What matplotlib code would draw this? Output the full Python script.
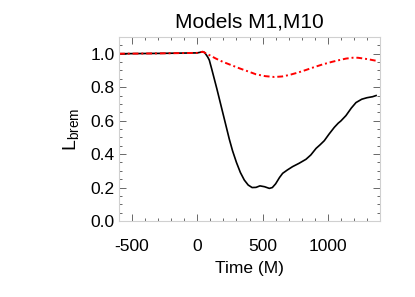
import numpy as np
import matplotlib
matplotlib.use("Agg")
import matplotlib.pyplot as plt
from matplotlib.ticker import MultipleLocator, FormatStrFormatter

plt.rcParams["font.family"] = ["Liberation Sans", "DejaVu Sans"]
plt.rcParams["axes.unicode_minus"] = False

# M1: solid black curve
t_m1 = [-600, -300, 0, 25, 41, 55, 67, 80, 92, 110, 130, 150, 169, 188, 207, 226,
        245, 270, 300, 330, 360, 390, 420, 450, 480, 515, 552, 575, 600, 630,
        654, 690, 730, 780, 833, 870, 910, 940, 973, 1010, 1050, 1080, 1100,
        1139, 1180, 1216, 1260, 1300, 1343, 1370]
l_m1 = [1.0, 1.002, 1.005, 1.009, 1.012, 1.008, 0.995, 0.98, 0.962, 0.91, 0.85,
        0.79, 0.73, 0.67, 0.61, 0.55, 0.49, 0.42, 0.35, 0.29, 0.245, 0.215, 0.2,
        0.201, 0.21, 0.205, 0.195, 0.2, 0.222, 0.26, 0.285, 0.305, 0.325, 0.345,
        0.369, 0.395, 0.434, 0.455, 0.48, 0.52, 0.56, 0.585, 0.598, 0.63, 0.675,
        0.708, 0.728, 0.737, 0.743, 0.75]

# M10: red dash-dot curve
t_m10 = [-600, -300, 0, 25, 41, 60, 92, 140, 194, 260, 322, 390, 450, 520,
         590, 650, 705, 770, 833, 900, 960, 1030, 1088, 1140, 1190, 1230,
         1267, 1310, 1343, 1370]
l_m10 = [1.0, 1.002, 1.005, 1.009, 1.012, 1.005, 0.992, 0.972, 0.952, 0.932,
         0.913, 0.894, 0.877, 0.866, 0.861, 0.864, 0.873, 0.887, 0.903, 0.921,
         0.936, 0.951, 0.962, 0.971, 0.976, 0.976, 0.972, 0.967, 0.962, 0.958]

fig = plt.figure(figsize=(4.15, 2.97), dpi=100)
ax = fig.add_axes([119 / 415, 1 - 221 / 297, 261 / 415, 184 / 297])

ax.plot(t_m1, l_m1, color="black", lw=1.2)
ax.plot(t_m10, l_m10, color="red", lw=1.4, ls=(0, (3, 1.5, 1, 1.5)))

ax.set_xlim(-600, 1400)
ax.set_ylim(0, 1.1)
ax.xaxis.set_major_locator(MultipleLocator(500))
ax.xaxis.set_minor_locator(MultipleLocator(100))
ax.yaxis.set_major_locator(MultipleLocator(0.2))
ax.yaxis.set_minor_locator(MultipleLocator(0.05))
ax.yaxis.set_major_formatter(FormatStrFormatter("%.1f"))

for s in ax.spines.values():
    s.set_color("#d0d0d0")
    s.set_linewidth(0.8)
ax.tick_params(which="both", direction="in", top=True, right=True,
               color="#505050", width=0.6, labelsize=12.5)
ax.tick_params(which="major", length=5)
ax.tick_params(which="minor", length=2.5)
ax.tick_params(axis="y", pad=3)
ax.tick_params(axis="x", pad=13)

ax.set_title("Models M1,M10", fontsize=15, pad=7)
ax.set_xlabel("Time (M)", fontsize=12.5, labelpad=5)
ax.set_ylabel(r"$\mathregular{L_{brem}}$", fontsize=14, labelpad=7)

fig.savefig("out.png", dpi=100)
